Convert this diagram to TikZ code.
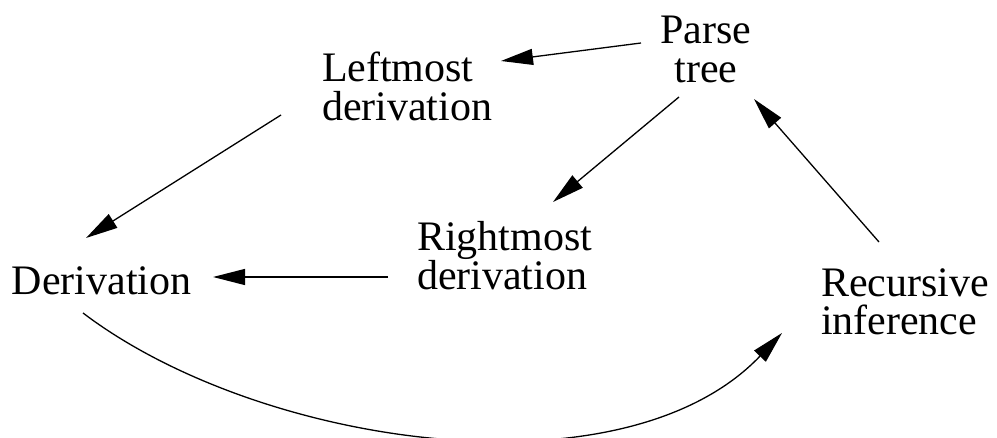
\documentclass[tikz,border=0pt]{standalone}
\usepackage{fontspec}
\setmainfont{Liberation Serif}
\usetikzlibrary{arrows.meta}
\begin{document}
\begin{tikzpicture}[x=1pt,y=1pt,
  lbl/.style={inner sep=0pt, outer sep=0pt, font=\fontsize{42}{39}\selectfont},
  arr/.style={line width=1.3pt, -{Triangle[length=32pt,width=16pt]}}]
\useasboundingbox (0,0) rectangle (997,437);
\node[lbl, align=center, anchor=base] (pt) at (706,354) {Parse\\tree};
\node[lbl, align=left, anchor=base west] (lm) at (322,316) {Leftmost\\derivation};
\node[lbl, anchor=base west] (dv) at (12,142) {Derivation};
\node[lbl, align=left, anchor=base west] (rm) at (417,147) {Rightmost\\derivation};
\node[lbl, align=left, anchor=base west] (ri) at (821,102) {Recursive\\inference};
\draw[arr] ([shift={(-65,40)}]pt.base) -- ([shift={(179,60)}]lm.base west);
\draw[arr] ([shift={(-29,13)}]rm.base west) -- ([shift={(201,18)}]dv.base west);
\draw[arr] ([shift={(-41,6)}]lm.base west) -- ([shift={(74,57)}]dv.base west);
\draw[arr] ([shift={(-27,-14)}]pt.base) -- ([shift={(136,88)}]rm.base west);
\draw[arr] ([shift={(58,93)}]ri.base west) -- ([shift={(48,-16)}]pt.base);
\draw[arr] ([shift={(71,-18)}]dv.base west) .. controls (261,-11) and (624,-62) .. ([shift={(-39,2)}]ri.base west);
\end{tikzpicture}
\end{document}
